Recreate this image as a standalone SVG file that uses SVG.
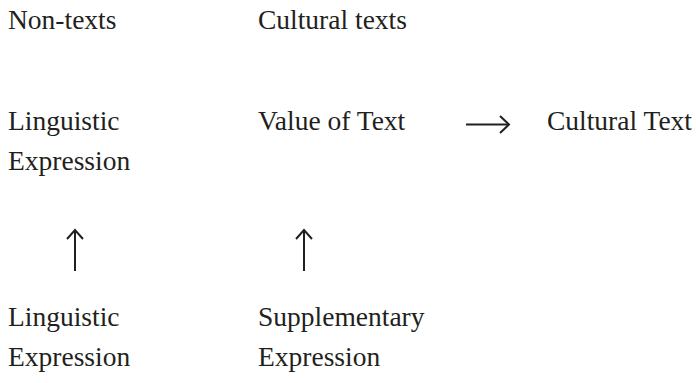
<svg xmlns="http://www.w3.org/2000/svg" width="696" height="383" viewBox="0 0 696 383">
<style>
text{font-family:"Liberation Serif","DejaVu Serif",serif;font-size:27.5px;fill:#231f20}
.c{stroke:#231f20;stroke-width:2;fill:none}
.h{stroke:#231f20;stroke-width:2;fill:none;stroke-linecap:butt;stroke-linejoin:miter}
</style>
<rect width="696" height="383" fill="#fff"/>
<g id="non-texts"><text x="8" y="29">Non-texts</text></g>
<g id="cultural-texts"><text x="258" y="29">Cultural texts</text></g>
<g id="linguistic-expression-top"><text x="8" y="130">Linguistic</text><text x="8" y="170">Expression</text></g>
<g id="value-of-text"><text x="258" y="130">Value of Text</text></g>
<g id="cultural-text"><text x="547" y="130">Cultural Text</text></g>
<g id="linguistic-expression-bottom"><text x="8" y="326">Linguistic</text><text x="8" y="366">Expression</text></g>
<g id="supplementary-expression"><text x="258" y="326">Supplementary</text><text x="258" y="366">Expression</text></g>
<g id="connectors">
<path class="c" d="M466 124.5H509"/><path class="h" d="M500 116L509 124.5L500 133"/>
<path class="c" d="M75 271V230"/><path class="h" d="M67 239L75 230L83 239"/>
<path class="c" d="M304 271V230"/><path class="h" d="M296 239L304 230L312 239"/>
</g>
</svg>
